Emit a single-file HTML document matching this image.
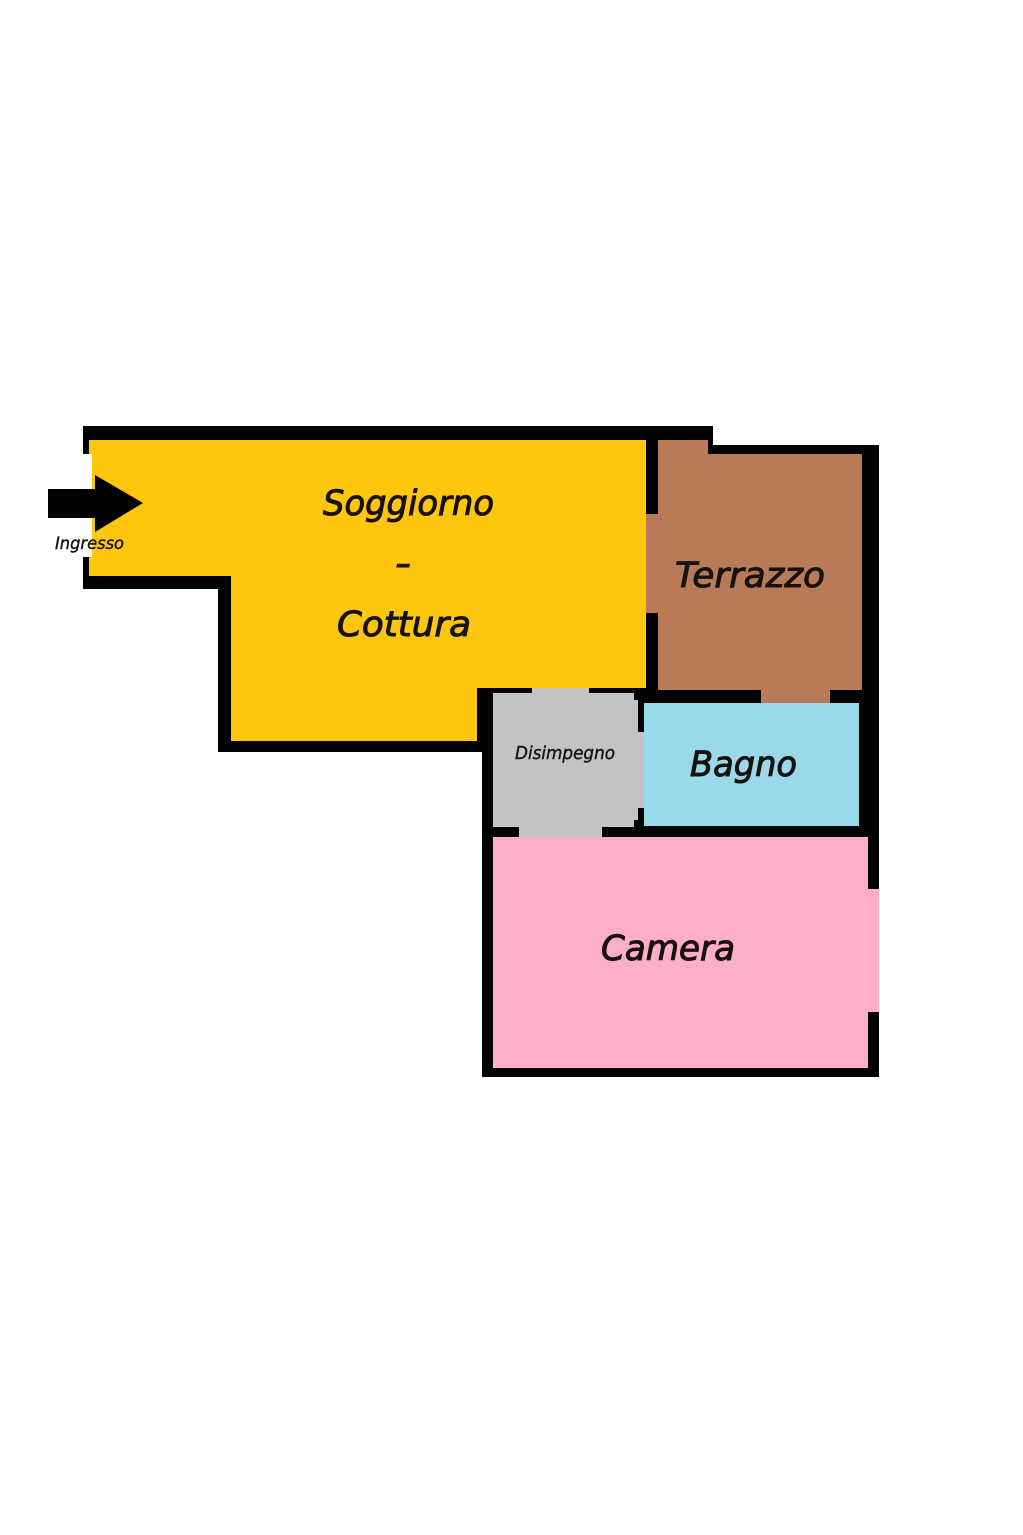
<!DOCTYPE html>
<html lang="it">
<head>
<meta charset="utf-8">
<title>Planimetria</title>
<style>
html,body{margin:0;padding:0;background:#fff;width:1023px;height:1535px;overflow:hidden}
svg{display:block}
text{font-family:"DejaVu Sans","Liberation Sans",sans-serif;font-style:oblique;fill:#17120f;stroke:#17120f;stroke-width:1}
</style>
</head>
<body>
<svg width="1023" height="1535" viewBox="0 0 1023 1535" xmlns="http://www.w3.org/2000/svg">
<rect width="1023" height="1535" fill="#fff"/>

<!-- black wall masses -->
<polygon fill="#000" points="83,426 713,426 713,445 879,445 879,889 868,889 868,1012 879,1012 879,1077 482,1077 482,752 218,752 218,589 83,589"/>

<!-- Soggiorno / Cottura -->
<polygon fill="#FFC60E" points="89,440 646,440 646,688 477,688 477,741 231,741 231,576 89,576"/>
<!-- entrance opening -->
<rect x="83" y="454" width="9" height="103" fill="#fff"/>

<!-- Terrazzo -->
<polygon fill="#B97A57" points="658,440 708,440 708,454 862,454 862,690 830,690 830,703 761,703 761,690 658,690 658,613 646,613 646,514 658,514"/>

<!-- Bagno -->
<rect x="644" y="703" width="215" height="123" fill="#99D9EA"/>

<!-- Disimpegno -->
<polygon fill="#C3C3C3" points="493,693 532,693 532,688 589,688 589,693 634,693 634,700 638,700 638,732 644,732 644,808 638,808 638,820 634,820 634,827 602,827 602,837 519,837 519,827 493,827"/>

<!-- Camera -->
<polygon fill="#FFAEC9" points="493,837 868,837 868,889 879,889 879,1012 868,1012 868,1068 493,1068"/>

<!-- entrance arrow -->
<rect x="48" y="489" width="48" height="29" fill="#000"/>
<polygon fill="#000" points="95,475 143,503 95,532"/>

<!-- labels -->
<text x="323" y="515" font-size="35" textLength="171" lengthAdjust="spacingAndGlyphs">Soggiorno</text>
<text x="395" y="575" font-size="35" textLength="16" lengthAdjust="spacingAndGlyphs">-</text>
<text x="337" y="636" font-size="35" textLength="134" lengthAdjust="spacingAndGlyphs">Cottura</text>
<text x="675" y="587" font-size="35" textLength="150" lengthAdjust="spacingAndGlyphs">Terrazzo</text>
<text x="690" y="776" font-size="35" textLength="107" lengthAdjust="spacingAndGlyphs">Bagno</text>
<text x="601" y="960" font-size="35" textLength="134" lengthAdjust="spacingAndGlyphs">Camera</text>
<text x="515" y="759" font-size="18" textLength="100" lengthAdjust="spacingAndGlyphs" style="stroke-width:.4">Disimpegno</text>
<text x="55" y="549" font-size="17" textLength="69" lengthAdjust="spacingAndGlyphs" style="stroke-width:.4">Ingresso</text>
</svg>
</body>
</html>
